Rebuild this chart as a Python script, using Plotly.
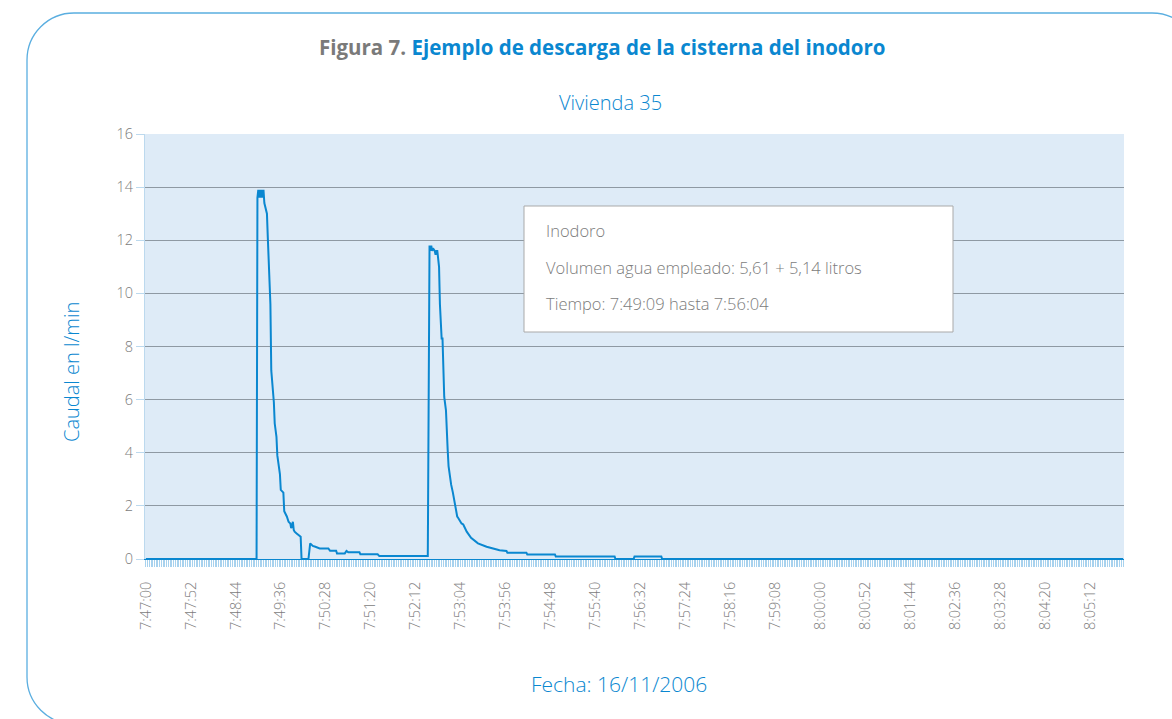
import pandas as pd
import plotly.graph_objects as go

# ---------------- data ----------------
DATE = "2006-11-16"
times = [
    "7:47:00", "7:49:08", "7:49:09", "7:49:10", "7:49:11", "7:49:12", "7:49:13", "7:49:14",
    "7:49:15", "7:49:16", "7:49:17", "7:49:20", "7:49:21", "7:49:22", "7:49:23", "7:49:24",
    "7:49:25", "7:49:27", "7:49:28", "7:49:29", "7:49:31", "7:49:32", "7:49:35", "7:49:36",
    "7:49:39", "7:49:40", "7:49:43", "7:49:45", "7:49:47", "7:49:48", "7:49:50", "7:49:51",
    "7:49:52", "7:49:54", "7:49:59", "7:50:00", "7:50:08", "7:50:10", "7:50:13", "7:50:16",
    "7:50:21", "7:50:31", "7:50:33", "7:50:40", "7:50:41", "7:50:50", "7:50:52", "7:50:54",
    "7:51:07", "7:51:08", "7:51:28", "7:51:30", "7:52:24", "7:52:26", "7:52:28", "7:52:29",
    "7:52:30", "7:52:31", "7:52:32", "7:52:34", "7:52:35", "7:52:36", "7:52:37", "7:52:39",
    "7:52:40", "7:52:41", "7:52:42", "7:52:43", "7:52:44", "7:52:45", "7:52:47", "7:52:48",
    "7:52:49", "7:52:50", "7:52:52", "7:52:53", "7:52:55", "7:52:57", "7:52:58", "7:53:00",
    "7:53:01", "7:53:05", "7:53:07", "7:53:11", "7:53:16", "7:53:24", "7:53:34", "7:53:49",
    "7:53:57", "7:53:58", "7:54:20", "7:54:21", "7:54:53", "7:54:54", "7:56:02", "7:56:03",
    "7:56:24", "7:56:25", "7:56:56", "7:56:57", "8:05:50",
]
caudal = [
    0, 0, 13.6, 13.9, 13.6, 13.9, 13.6, 13.9,
    13.6, 13.9, 13.4, 13.0, 12.1, 11.3, 10.6, 9.6,
    7.1, 6.4, 5.9, 5.1, 4.6, 3.9, 3.2, 2.6,
    2.5, 1.8, 1.6, 1.4, 1.34, 1.16, 1.4, 1.09,
    1.03, 0.97, 0.84, 0, 0, 0.59, 0.49, 0.46,
    0.40, 0.40, 0.31, 0.31, 0.21, 0.21, 0.30, 0.25,
    0.25, 0.18, 0.18, 0.11, 0.11, 0.11, 11.8, 11.6,
    11.8, 11.6, 11.7, 11.6, 11.45, 11.6, 11.6, 11.0,
    9.6, 9.1, 8.3, 8.3, 7.4, 6.1, 5.6, 4.3,
    4.1, 3.5, 2.9, 2.8, 2.5, 2.1, 2.0, 1.6,
    1.55, 1.34, 1.3, 1.03, 0.8, 0.59, 0.46, 0.33,
    0.30, 0.24, 0.24, 0.17, 0.17, 0.09, 0.09, 0,
    0, 0.09, 0.09, 0, 0,
]
tick_labels = [
    "7:47:00", "7:47:52", "7:48:44", "7:49:36", "7:50:28", "7:51:20", "7:52:12",
    "7:53:04", "7:53:56", "7:54:48", "7:55:40", "7:56:32", "7:57:24", "7:58:16",
    "7:59:08", "8:00:00", "8:00:52", "8:01:44", "8:02:36", "8:03:28", "8:04:20", "8:05:12",
]
x_start, x_end = "7:46:59", "8:05:51"
y_ticks = [0, 2, 4, 6, 8, 10, 12, 14, 16]
info_lines = [
    "Inodoro",
    "Volumen agua empleado: 5,61 + 5,14 litros",
    "Tiempo: 7:49:09 hasta 7:56:04",
]

def ts(s):
    return pd.to_datetime(f"{DATE} {s}")

# ---------------- layout geometry ----------------
W, H = 1172, 719
L, R, T, B = 145, 1124, 134, 559   # plot area in pixels

def px(x):
    return (x - L) / (R - L)

def py(y):
    return (B - y) / (B - T)

BLUE = "#0a87d0"
GRAY = "#7c7c7c"
FONT = "Open Sans"

fig = go.Figure()
fig.add_trace(go.Scatter(
    x=[ts(t) for t in times], y=caudal, mode="lines",
    line=dict(color=BLUE, width=2), showlegend=False, hoverinfo="skip",
))

fig.update_layout(
    width=W, height=H,
    margin=dict(l=L, r=W - R, t=T, b=H - B),
    paper_bgcolor="white", plot_bgcolor="#deebf7",
    font=dict(family=FONT, color=GRAY),
    showlegend=False,
)
fig.update_xaxes(
    type="date",
    range=[ts(x_start), ts(x_end)],
    tickvals=[ts(t) for t in tick_labels], ticktext=tick_labels,
    tickangle=-90, tickfont=dict(size=14.5, color=GRAY, weight=300),
    ticklabelstandoff=9,
    ticks="outside", ticklen=7, tickcolor="#a8d2ee", tickwidth=1,
    minor=dict(dtick=2000, tick0=ts("7:47:00"), ticks="outside", ticklen=7,
               tickcolor="#a8d2ee", tickwidth=1, showgrid=False),
    showgrid=False, showline=True, linecolor=BLUE, linewidth=1,
    zeroline=False, fixedrange=True,
)
fig.update_yaxes(
    range=[0, 16], tickvals=y_ticks,
    tickfont=dict(size=14.5, color=GRAY, weight=300),
    ticks="outside", ticklen=8, tickcolor="#bcd9ee",
    showgrid=True, gridcolor="#8e99a3", gridwidth=1,
    showline=True, linecolor="#bcd9ee", linewidth=1,
    zeroline=False,
)

# rounded frame
k = 0.5523
r = 47
xl, yt = 27, 13
xr, yb = 1199, 724
path = (
    f"M {px(xl)},{py(yb - r)} "
    f"L {px(xl)},{py(yt + r)} "
    f"C {px(xl)},{py(yt + r - k*r)} {px(xl + r - k*r)},{py(yt)} {px(xl + r)},{py(yt)} "
    f"L {px(xr - r)},{py(yt)} "
    f"C {px(xr - r + k*r)},{py(yt)} {px(xr)},{py(yt + r - k*r)} {px(xr)},{py(yt + r)} "
)
path2 = (
    f"M {px(xl)},{py(yb - r)} "
    f"C {px(xl)},{py(yb - r + k*r)} {px(xl + r - k*r)},{py(yb)} {px(xl + r)},{py(yb)}"
)
fig.add_shape(type="path", path=path, xref="paper", yref="paper",
              line=dict(color="#5aaee0", width=1.3), layer="above")
fig.add_shape(type="path", path=path2, xref="paper", yref="paper",
              line=dict(color="#5aaee0", width=1.3), layer="above")

# info box
fig.add_shape(type="rect", xref="paper", yref="paper",
              x0=px(524), x1=px(953), y0=py(332), y1=py(206),
              fillcolor="white", line=dict(color="#a9a9a9", width=1), layer="above")
for txt, yy in zip(info_lines, [230, 267, 303]):
    fig.add_annotation(xref="paper", yref="paper", x=px(544), y=py(yy),
                       text=txt, showarrow=False, xanchor="left", yanchor="middle",
                       font=dict(size=16.5, color=GRAY, family=FONT, weight=300))

# titles
fig.add_annotation(xref="paper", yref="paper", x=px(602), y=py(47),
                   text="<b><span style='color:#7a7a7a'>Figura 7.</span> Ejemplo de descarga de la cisterna del inodoro</b>",
                   showarrow=False, xanchor="center", yanchor="middle",
                   font=dict(size=20.5, color=BLUE, family=FONT))
fig.add_annotation(xref="paper", yref="paper", x=px(610), y=py(102),
                   text="Vivienda 35", showarrow=False, xanchor="center", yanchor="middle",
                   font=dict(size=20, color=BLUE, family=FONT, weight=300))
fig.add_annotation(xref="paper", yref="paper", x=px(71), y=py(372),
                   text="Caudal en l/min", showarrow=False, textangle=-90,
                   xanchor="center", yanchor="middle",
                   font=dict(size=20, color=BLUE, family=FONT, weight=300))
fig.add_annotation(xref="paper", yref="paper", x=px(619), y=py(684),
                   text="Fecha: 16/11/2006", showarrow=False,
                   xanchor="center", yanchor="middle",
                   font=dict(size=21, color=BLUE, family=FONT, weight=300))

fig.write_html("out.html", config={"displayModeBar": False},
               post_script="document.body.style.margin='0px';")
